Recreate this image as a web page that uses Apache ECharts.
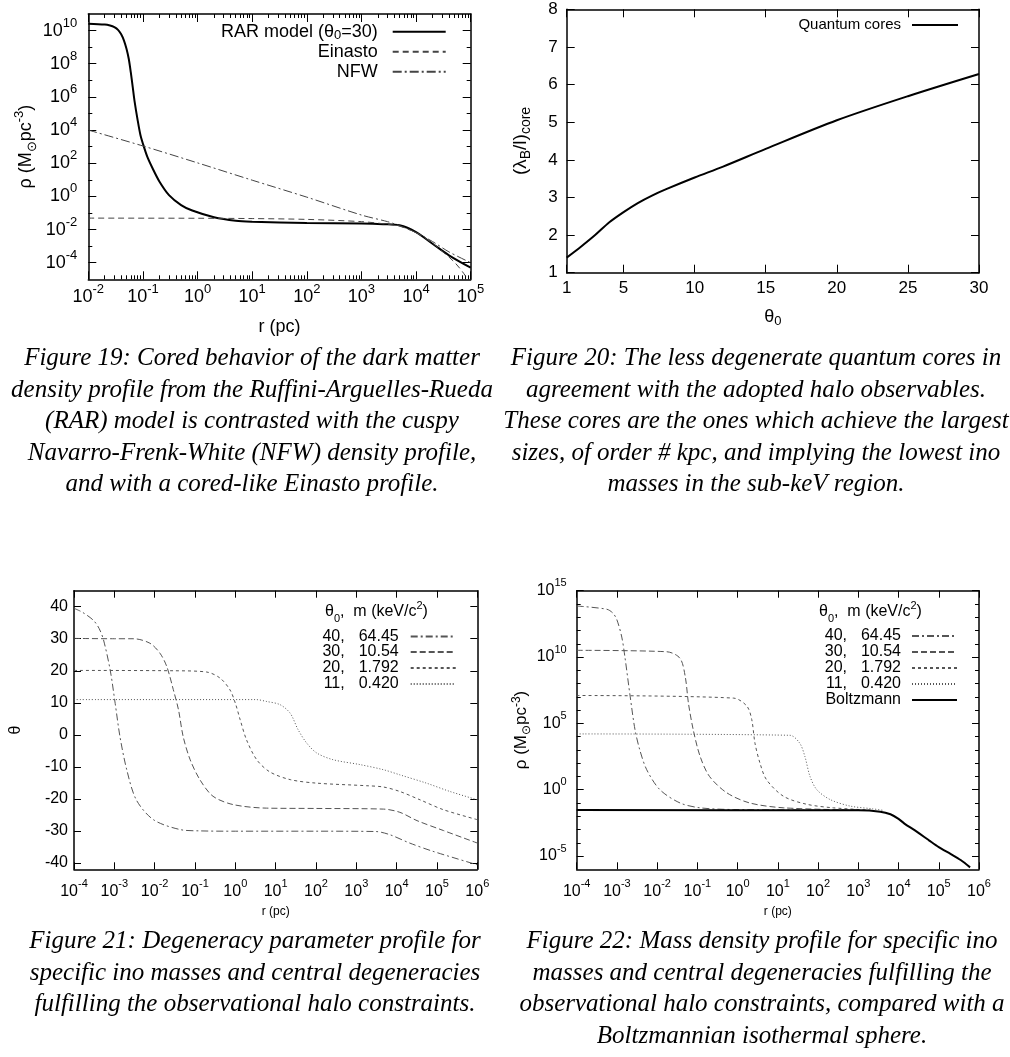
<!DOCTYPE html>
<html><head><meta charset="utf-8">
<script src="https://cdn.jsdelivr.net/npm/echarts@6/dist/echarts.min.js"></script>
<style>html,body{margin:0;padding:0;background:#fff}#c{width:1010px;height:1057px}</style>
</head><body><div id="c"></div>
<script>
// ===== Figure 19 data (r in pc, rho in Msun/pc^3) =====
const fig19_rar_r = [0.01, 0.02, 0.025, 0.03, 0.035, 0.04, 0.045, 0.05, 0.055, 0.06, 0.065, 0.07, 0.08, 0.09, 0.1, 0.12, 0.15, 0.2, 0.3, 0.5, 0.8, 2, 5, 10, 100, 1000, 2500, 5000, 1e4, 2e4, 4e4, 1e5];
const fig19_rar_rho = [2.6e10, 2.3e10, 2.0e10, 1.6e10, 1.1e10, 6e9, 2.5e9, 8e8, 2e8, 3e7, 4e6, 6e5, 4e4, 5e3, 1.5e3, 2.5e2, 50, 8, 1.2, 0.3, 0.14, 0.055, 0.034, 0.03, 0.025, 0.023, 0.021, 0.018, 7e-3, 1.4e-3, 2.8e-4, 5e-5];
const fig19_ein_r = [0.01, 1, 10, 100, 1000, 3000, 5000, 1e4, 2e4, 3e4, 5e4, 7e4, 9e4];
const fig19_ein_rho = [0.049, 0.048, 0.046, 0.041, 0.03, 0.021, 0.016, 6.5e-3, 1.5e-3, 5e-4, 1.1e-4, 3e-5, 9e-6];
const fig19_nfw_r = [0.01, 0.1, 1, 10, 100, 1000, 3000, 5000, 1e4, 2e4, 4e4, 1e5];
const fig19_nfw_rho = [1e4, 1.1e3, 1.05e2, 9.5, 0.9, 0.075, 0.03, 0.017, 6.5e-3, 1.9e-3, 4.5e-4, 1e-4];
const fig19_xticks = [0.01, 0.1, 1, 10, 100, 1e3, 1e4, 1e5];
const fig19_yticks = [1e-4, 1e-2, 1, 1e2, 1e4, 1e6, 1e8, 1e10];
const fig19_yminor = [1e-3, 1e-1, 10, 1e3, 1e5, 1e7, 1e9];

// ===== Figure 20 data =====
const fig20_theta0 = [1, 2, 3, 4, 5, 6, 7, 8, 10, 12, 15, 20, 25, 30];
const fig20_ratio = [1.4, 1.69, 2.0, 2.34, 2.61, 2.85, 3.05, 3.22, 3.53, 3.82, 4.29, 5.05, 5.69, 6.28];
const fig20_xticks = [1, 5, 10, 15, 20, 25, 30];
const fig20_yticks = [1, 2, 3, 4, 5, 6, 7, 8];

// ===== Figure 21 data (theta vs r) =====
const fig21_40_r = [1e-4, 1.6e-4, 3e-4, 4.2e-4, 5.4e-4, 7.9e-4, 1.05e-3, 1.38e-3, 2.04e-3, 3.5e-3, 9.3e-3, 0.043, 0.13, 1, 100, 3000, 6800, 2.1e4, 8e4, 1e6];
const fig21_40_th = [39.5, 38.3, 35.8, 33.2, 29.6, 20.2, 9.8, -0.6, -11, -20.3, -26.5, -29.6, -30.0, -30.1, -30.1, -30.2, -31.2, -33.8, -36.4, -40.6];
const fig21_30_r = [1e-4, 1e-3, 3e-3, 7.6e-3, 0.0135, 0.02, 0.029, 0.039, 0.051, 0.076, 0.132, 0.28, 0.89, 6, 100, 4700, 1.2e4, 3.2e4, 1.45e5, 1e6];
const fig21_30_th = [30.1, 30.0, 30.0, 28.6, 25.5, 21.3, 14.1, 7.8, -0.6, -7.8, -14, -19.2, -21.8, -22.9, -23.0, -23.2, -24.2, -26.8, -29.9, -33.8];
const fig21_20_r = [1e-4, 0.03, 0.195, 0.42, 0.74, 1, 1.32, 1.9, 3.4, 7.2, 23, 105, 1800, 4700, 1.2e4, 3.8e4, 1.45e5, 1e6];
const fig21_20_th = [20.1, 20.0, 19.6, 17.7, 14, 9.9, 4.7, -1.6, -7.8, -11.6, -14, -15.1, -15.9, -16.3, -17.7, -20.3, -23.4, -26.5];
const fig21_11_r = [1e-4, 3.2, 6, 12.9, 22.9, 36, 59, 105, 270, 1230, 4700, 1.2e4, 5.5e4, 2.1e5, 1e6];
const fig21_11_th = [11.0, 11.0, 10.4, 9.4, 6.75, 1.6, -2.6, -5.7, -7.8, -9.3, -10.9, -12.5, -15.1, -17.7, -20.3];
const fig21_xticks = [1e-4, 1e-3, 1e-2, 1e-1, 1, 10, 100, 1e3, 1e4, 1e5, 1e6];
const fig21_yticks = [-40, -30, -20, -10, 0, 10, 20, 30, 40];

// ===== Figure 22 data (rho vs r) =====
const fig22_40_r = [1e-4, 5.6e-4, 8e-4, 1e-3, 1.32e-3, 1.58e-3, 2.14e-3, 2.82e-3, 3.7e-3, 5.5e-3, 0.0117, 0.037, 0.117, 0.8, 1000];
const fig22_40_rho = [7e13, 4e13, 2e13, 6.3e12, 3.2e11, 1e10, 1e7, 3.2e4, 1e3, 32, 1, 0.1, 0.043, 0.032, 0.029];
const fig22_30_r = [1e-4, 0.0174, 0.037, 0.05, 0.06, 0.079, 0.117, 0.2, 0.54, 2.0, 14, 1000];
const fig22_30_rho = [3.2e10, 2.5e10, 8e9, 3.2e8, 3.2e6, 3.2e4, 320, 10, 0.58, 0.1, 0.043, 0.029];
const fig22_20_r = [1e-4, 0.8, 1.7, 2.24, 2.7, 3.6, 5.2, 13.8, 52, 240, 2000];
const fig22_20_rho = [1.26e7, 8e6, 2e6, 2e5, 3.2e3, 100, 5.8, 0.32, 0.08, 0.043, 0.029];
const fig22_11_r = [1e-4, 20, 35, 47, 63, 93, 200, 630, 2300, 4000];
const fig22_11_rho = [1.6e4, 1.26e4, 3.2e3, 320, 10, 1, 0.18, 0.058, 0.036, 0.028];
const fig22_boltz_r = [1e-4, 1000, 3500, 6300, 1e4, 1.4e4, 2.5e4, 3.4e4, 5.6e4, 1e5, 2e5, 3.5e5, 6e5];
const fig22_boltz_rho = [0.029, 0.028, 0.022, 0.014, 6.3e-3, 2.8e-3, 8.9e-4, 4.7e-4, 1.6e-4, 4.7e-5, 1.4e-5, 5e-6, 1.4e-6];
const fig22_yticks = [1e-5, 1, 1e5, 1e10, 1e15];
const fig22_yminor = [1e-4, 1e-3, 1e-2, 1e-1, 10, 100, 1e3, 1e4, 1e6, 1e7, 1e8, 1e9, 1e11, 1e12, 1e13, 1e14];

// legend labels
const thetaList = ['40', '30', '20', '11'];
const massList = ['64.45', '10.54', '1.792', '0.420'];

// captions
const cap19 = ['Figure 19: Cored behavior of the dark matter', 'density profile from the Ruffini-Arguelles-Rueda', '(RAR) model is contrasted with the cuspy', 'Navarro-Frenk-White (NFW) density profile,', 'and with a cored-like Einasto profile.'];
const cap20 = ['Figure 20: The less degenerate quantum cores in', 'agreement with the adopted halo observables.', 'These cores are the ones which achieve the largest', 'sizes, of order # kpc, and implying the lowest ino', 'masses in the sub-keV region.'];
const cap21 = ['Figure 21: Degeneracy parameter profile for', 'specific ino masses and central degeneracies', 'fulfilling the observational halo constraints.'];
const cap22 = ['Figure 22: Mass density profile for specific ino', 'masses and central degeneracies fulfilling the', 'observational halo constraints, compared with a', 'Boltzmannian isothermal sphere.'];

// ===== build =====
const FONT = '"Liberation Sans", Arial, Helvetica, sans-serif';
const SERIF = '"Liberation Serif", "DejaVu Serif", serif';
const pairs = (xs, ys) => xs.map((x, i) => [x, ys[i]]);
function minorLog(d0, d1) { const out = []; for (let d = d0; d < d1; d++) for (let m = 2; m <= 9; m++) out.push(m * Math.pow(10, d)); return out; }
const supFmt = v => '{b|10}{s|' + Math.round(Math.log10(v)) + '}';
function richSup(fs, sfs, lh, slh) {
  return { b: { fontFamily: FONT, fontSize: fs, color: '#000', lineHeight: lh, fontWeight: 'normal' },
           s: { fontFamily: FONT, fontSize: sfs, color: '#000', lineHeight: slh, verticalAlign: 'top', fontWeight: 'normal' } };
}
function nameRich(fs, sfs, lh, slh) {
  return { t: { fontFamily: FONT, fontSize: fs, color: '#000', lineHeight: lh, fontWeight: 'normal' },
           sup: { fontFamily: FONT, fontSize: sfs, color: '#000', lineHeight: slh, verticalAlign: 'top', fontWeight: 'normal' },
           sub: { fontFamily: FONT, fontSize: sfs, color: '#000', lineHeight: slh, verticalAlign: 'bottom', fontWeight: 'normal' } };
}

const xAxes = [], yAxes = [];
function addAxes(list, pos, mpos, g, s) {
  const base = { gridIndex: g, type: s.type, min: s.min, max: s.max, splitLine: { show: false }, axisPointer: { show: false }, silent: true };
  if (s.type === 'log') base.logBase = 10;
  const lineOn = { show: true, onZero: false, lineStyle: { color: '#000', width: 1.5 } };
  const lineOff = { show: false, onZero: false };
  const idx = list.length;
  list.push(Object.assign({}, base, {
    position: pos, name: s.name, nameLocation: 'middle', nameGap: s.nameGap, nameRotate: s.nameRotate,
    nameTextStyle: Object.assign({ fontFamily: FONT, color: '#000', fontSize: s.nameSize }, s.nameRich ? { rich: s.nameRich } : {}),
    axisLine: lineOn,
    axisTick: { show: true, inside: true, length: s.tickLen, customValues: s.major, lineStyle: { color: '#000', width: 1 } },
    axisLabel: { show: true, customValues: s.major, formatter: s.fmt, margin: s.margin, color: '#000', fontFamily: FONT, fontSize: s.fontSize, rich: s.rich, hideOverlap: false }
  }));
  if (s.minor) list.push(Object.assign({}, base, { position: pos, axisLine: lineOff, axisLabel: { show: false },
    axisTick: { show: true, inside: true, length: 4, customValues: s.minor, lineStyle: { color: '#000', width: 1 } } }));
  list.push(Object.assign({}, base, { position: mpos, axisLine: lineOn, axisLabel: { show: false },
    axisTick: { show: true, inside: true, length: s.tickLen, customValues: s.major, lineStyle: { color: '#000', width: 1 } } }));
  if (s.minor) list.push(Object.assign({}, base, { position: mpos, axisLine: lineOff, axisLabel: { show: false },
    axisTick: { show: true, inside: true, length: 4, customValues: s.minor, lineStyle: { color: '#000', width: 1 } } }));
  return idx;
}

const grids = [
  { left: 88.3, top: 14, width: 382.4, height: 265.3 },
  { left: 566.7, top: 9.3, width: 412.3, height: 263.4 },
  { left: 74, top: 590.7, width: 403.3, height: 278.6 },
  { left: 576.7, top: 590.7, width: 402.3, height: 278.6 }
];

// Panel 1
const x1 = addAxes(xAxes, 'bottom', 'top', 0, { type: 'log', min: 0.01, max: 1.000001e5, major: fig19_xticks, minor: minorLog(-2, 5), tickLen: 8,
  fmt: supFmt, rich: richSup(18, 13, 28, 13), margin: 4, fontSize: 18, name: 'r (pc)', nameGap: 39, nameSize: 18 });
const y1 = addAxes(yAxes, 'left', 'right', 0, { type: 'log', min: 1e-5, max: 1.000001e11, major: fig19_yticks, minor: fig19_yminor, tickLen: 8,
  fmt: supFmt, rich: richSup(18, 13, 28, 13), margin: 11, fontSize: 18,
  name: '{t|ρ (M}{sub|⊙}{t|pc}{sup|-3}{t|)}', nameRich: nameRich(18, 13, 26, 12), nameGap: 49, nameSize: 18 });
// Panel 2
const x2 = addAxes(xAxes, 'bottom', 'top', 1, { type: 'value', min: 1, max: 30, major: fig20_xticks, tickLen: 8,
  fmt: v => String(v), margin: 7, fontSize: 17, name: '{t|θ}{sub|0}', nameRich: nameRich(18, 13, 22, 12), nameGap: 33, nameSize: 18 });
const y2 = addAxes(yAxes, 'left', 'right', 1, { type: 'value', min: 1, max: 8, major: fig20_yticks, tickLen: 8,
  fmt: v => String(v), margin: 9, fontSize: 17, name: '{t|(λ}{sub|B}{t|/l)}{sub|core}', nameRich: nameRich(19, 14, 24, 13), nameGap: 34, nameSize: 19 });
// Panel 3
const x3 = addAxes(xAxes, 'bottom', 'top', 2, { type: 'log', min: 1e-4, max: 1.000001e6, major: fig21_xticks, tickLen: 7,
  fmt: supFmt, rich: richSup(16, 11, 26, 10), margin: 9, fontSize: 16, name: 'r (pc)', nameGap: 36, nameSize: 12 });
const y3 = addAxes(yAxes, 'left', 'right', 2, { type: 'value', min: -42, max: 45, major: fig21_yticks, tickLen: 7,
  fmt: v => String(v), margin: 6, fontSize: 16, name: 'θ', nameGap: 50, nameSize: 16 });
// Panel 4
const x4 = addAxes(xAxes, 'bottom', 'top', 3, { type: 'log', min: 1e-4, max: 1.000001e6, major: fig21_xticks, tickLen: 7,
  fmt: supFmt, rich: richSup(16, 11, 26, 10), margin: 9, fontSize: 16, name: 'r (pc)', nameGap: 36, nameSize: 12 });
const y4 = addAxes(yAxes, 'left', 'right', 3, { type: 'log', min: 1e-6, max: 1.000001e15, major: fig22_yticks, minor: fig22_yminor, tickLen: 7,
  fmt: supFmt, rich: richSup(16, 11, 26, 10), margin: 10, fontSize: 16,
  name: '{t|ρ (M}{sub|⊙}{t|pc}{sup|-3}{t|)}', nameRich: nameRich(17, 12, 22, 11), nameGap: 42, nameSize: 17 });

const GRAY = '#555';
const dashStyles = [[7, 3, 2, 3], [6, 3], [3, 3], [1, 2]];
function ln(name, xi, yi, data, color, width, type) {
  return { name, type: 'line', xAxisIndex: xi, yAxisIndex: yi, data, symbol: 'none', smooth: 0.3,
    clip: true, silent: true, lineStyle: { color, width, type: type || 'solid' }, itemStyle: { color } };
}
const qNames = thetaList.map((t, i) => t + ', ' + massList[i]);
const series = [
  ln('RAR model (θ0=30)', x1, y1, pairs(fig19_rar_r, fig19_rar_rho), '#000', 2),
  ln('Einasto', x1, y1, pairs(fig19_ein_r, fig19_ein_rho), '#444', 1, [6, 4]),
  ln('NFW', x1, y1, pairs(fig19_nfw_r, fig19_nfw_rho), '#444', 1, [9, 3, 2, 3]),
  ln('Quantum cores', x2, y2, pairs(fig20_theta0, fig20_ratio), '#000', 2),
  ln(qNames[0], x3, y3, pairs(fig21_40_r, fig21_40_th), GRAY, 1, dashStyles[0]),
  ln(qNames[1], x3, y3, pairs(fig21_30_r, fig21_30_th), GRAY, 1, dashStyles[1]),
  ln(qNames[2], x3, y3, pairs(fig21_20_r, fig21_20_th), GRAY, 1, dashStyles[2]),
  ln(qNames[3], x3, y3, pairs(fig21_11_r, fig21_11_th), GRAY, 1, dashStyles[3]),
  ln(qNames[0], x4, y4, pairs(fig22_40_r, fig22_40_rho), GRAY, 1, dashStyles[0]),
  ln(qNames[1], x4, y4, pairs(fig22_30_r, fig22_30_rho), GRAY, 1, dashStyles[1]),
  ln(qNames[2], x4, y4, pairs(fig22_20_r, fig22_20_rho), GRAY, 1, dashStyles[2]),
  ln(qNames[3], x4, y4, pairs(fig22_11_r, fig22_11_rho), GRAY, 1, dashStyles[3]),
  ln('Boltzmann', x4, y4, pairs(fig22_boltz_r, fig22_boltz_rho), '#000', 2)
];

function leg(name, right, top, fs, lh, w, pad, text, rich) {
  return { data: [name], right, top, orient: 'horizontal', align: 'right', padding: 0, itemGap: 0, itemWidth: w, itemHeight: 8,
    selectedMode: false, formatter: text ? (() => text) : '{name}',
    itemStyle: { color: 'rgba(0,0,0,0)', borderColor: 'rgba(0,0,0,0)', borderWidth: 0, opacity: 0 },
    textStyle: Object.assign({ color: '#000', fontFamily: FONT, fontSize: fs, lineHeight: lh, padding: [0, pad, 0, 0] }, rich ? { rich } : {}) };
}
const qRich = { a: { fontFamily: FONT, fontSize: 16, color: '#000', width: 24, align: 'right', lineHeight: 16 },
                b: { fontFamily: FONT, fontSize: 16, color: '#000', width: 54, align: 'right', lineHeight: 16 } };
const legends = [
  leg('RAR model (θ0=30)', 563.3, 21.7, 18, 20, 53, 10, '{t|RAR model (θ}{sub|0}{t|=30)}', nameRich(18, 13, 20, 12)),
  leg('Einasto', 563.3, 41.7, 18, 20, 53, 10),
  leg('NFW', 563.3, 61.7, 18, 20, 53, 10),
  leg('Quantum cores', 51, 16, 15, 18, 46, 6)
];
const p3tops = [628.5, 644, 660, 676];
qNames.forEach((n, i) => legends.push(leg(n, 553.3, p3tops[i], 16, 16, 45, 7, '{a|' + thetaList[i] + ',}{b|' + massList[i] + '}', qRich)));
const p4tops = [628, 644, 660, 676, 692];
qNames.forEach((n, i) => legends.push(leg(n, 52, p4tops[i], 16, 16, 45, 6, '{a|' + thetaList[i] + ',}{b|' + massList[i] + '}', qRich)));
legends.push(leg('Boltzmann', 52, p4tops[4], 16, 16, 45, 6));

const capStyle = { fontFamily: SERIF, fontStyle: 'italic', fontWeight: 'normal', fontSize: 25, lineHeight: 31.5, color: '#000' };
const headerText = '{t|θ}{sub|0}{t|,  m (keV/c}{sup|2}{t|)}';
const titles = [
  { left: 252, top: 343, textAlign: 'center', padding: 0, text: cap19.join('\n'), textStyle: capStyle },
  { left: 756, top: 343, textAlign: 'center', padding: 0, text: cap20.join('\n'), textStyle: capStyle },
  { left: 255, top: 926, textAlign: 'center', padding: 0, text: cap21.join('\n'), textStyle: capStyle },
  { left: 762, top: 926, textAlign: 'center', padding: 0, text: cap22.join('\n'), textStyle: capStyle },
  { left: 325, top: 600, padding: 0, text: headerText, textStyle: { fontWeight: 'normal', rich: nameRich(16, 11, 24, 9) } },
  { left: 819, top: 600, padding: 0, text: headerText, textStyle: { fontWeight: 'normal', rich: nameRich(16, 11, 24, 9) } }
];

const chart = echarts.init(document.getElementById('c'), null, { renderer: 'canvas' });
chart.setOption({
  backgroundColor: '#fff', animation: false,
  title: titles, legend: legends, grid: grids, xAxis: xAxes, yAxis: yAxes, series
});
</script></body></html>
